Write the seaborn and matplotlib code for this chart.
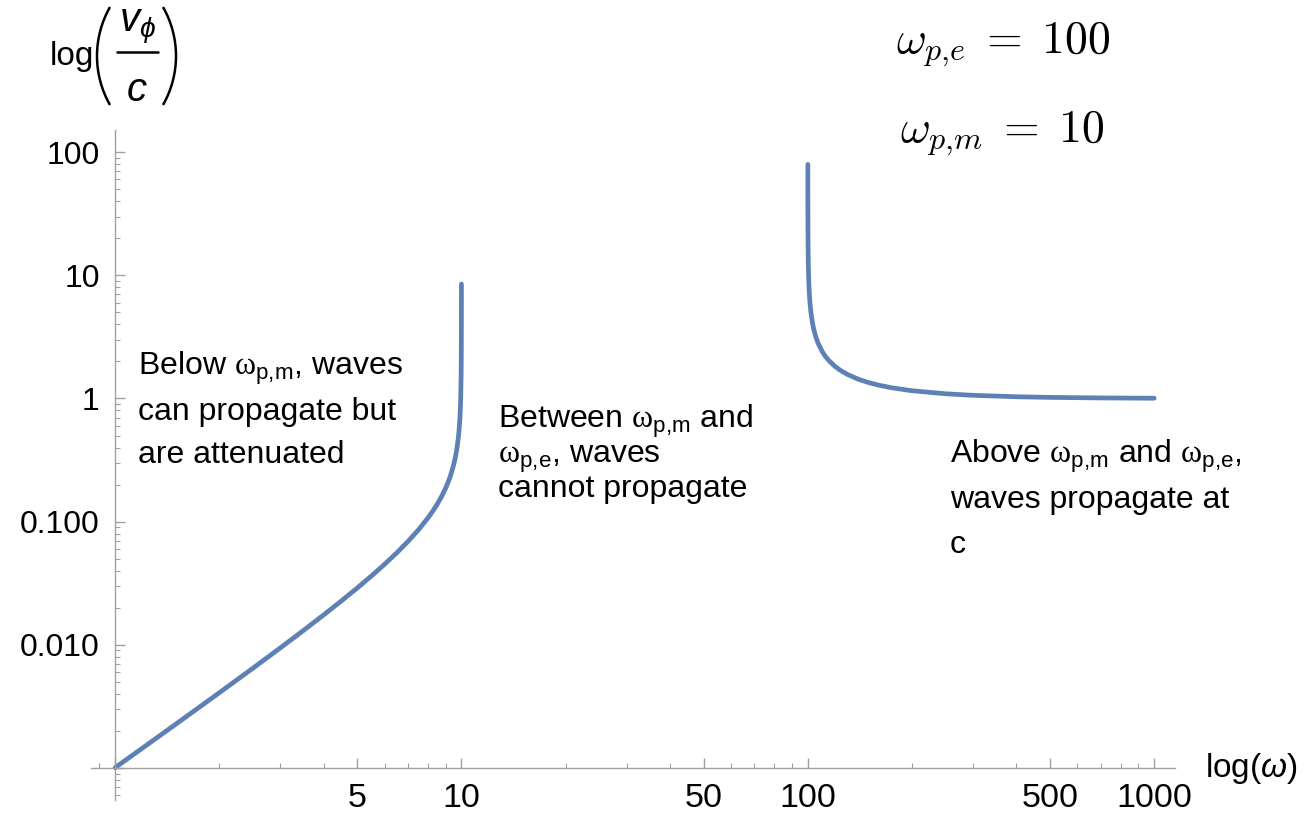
import numpy as np
import pandas as pd
import matplotlib.pyplot as plt
import seaborn as sns
from matplotlib.ticker import FixedLocator, FixedFormatter, NullFormatter
from matplotlib.patches import Arc
from matplotlib.lines import Line2D
from matplotlib.transforms import IdentityTransform

# values (log-log plot)
omega_low = [1, 1.25, 1.5, 2, 2.5, 3, 3.5, 4, 4.5, 5, 5.5, 6, 6.5, 7, 7.5, 8,
             8.25, 8.5, 8.75, 9, 9.15, 9.3, 9.5, 9.6, 9.7, 9.8, 9.85, 9.9,
             9.93, 9.95, 9.98, 9.99, 9.995, 9.998, 9.9993]
vphi_low = [0.001005, 0.001575, 0.002276, 0.004083, 0.006457, 0.00944,
            0.013085, 0.01747, 0.0227, 0.0289, 0.03627, 0.0451, 0.05571,
            0.0688, 0.08528, 0.1070, 0.12085, 0.1377, 0.15875, 0.1866,
            0.2084, 0.2363, 0.2904, 0.3307, 0.3889, 0.485, 0.565, 0.698,
            0.839, 0.9964, 1.584, 2.243, 3.176, 5.02, 8.49]

omega_high = [100.008, 100.02, 100.05, 100.1, 100.2, 100.3, 100.45, 100.6,
              100.8, 101, 101.5, 102, 103, 104, 105.5, 107, 110, 112.5, 115,
              120, 125, 130, 140, 150, 160, 175, 200, 250, 300, 400, 500,
              700, 1000]
vphi_high = [79.5, 50.25, 31.8, 22.5, 15.91, 13.0, 10.63, 9.216, 7.992,
             7.159, 5.867, 5.099, 4.194, 3.658, 3.152, 2.823, 2.410, 2.1915,
             2.033, 1.815, 1.672, 1.570, 1.4325, 1.345, 1.2835, 1.2205,
             1.156, 1.092, 1.061, 1.033, 1.021, 1.0105, 1.005]

x_ticks = [1, 5, 10, 50, 100, 500, 1000]
x_ticklabels = ['', '5', '10', '50', '100', '500', '1000']
y_ticks = [0.001, 0.01, 0.1, 1, 10, 100]
y_ticklabels = ['', '0.010', '0.100', '1', '10', '100']

sns.set_style('white')
plt.rcParams['font.family'] = ['Liberation Sans', 'DejaVu Sans']
plt.rcParams['text.color'] = 'black'
plt.rcParams['mathtext.fontset'] = 'custom'
plt.rcParams['mathtext.rm'] = 'Liberation Serif'
plt.rcParams['mathtext.it'] = 'Liberation Sans:italic'
plt.rcParams['mathtext.sf'] = 'Liberation Sans'
plt.rcParams['mathtext.bf'] = 'Liberation Sans:bold'

W, H = 1308, 814
fig = plt.figure(figsize=(W / 100, H / 100), dpi=100)
ax = fig.add_axes([90.8 / W, 14 / H, (1175 - 90.8) / W, (684 - 14) / H])

df_low = pd.DataFrame({'omega': omega_low, 'vphi': vphi_low})
df_high = pd.DataFrame({'omega': omega_high, 'vphi': vphi_high})
line_col = '#5E81B5'
sns.lineplot(data=df_low, x='omega', y='vphi', ax=ax, color=line_col,
             lw=3.4, estimator=None, sort=False, solid_capstyle='round')
sns.lineplot(data=df_high, x='omega', y='vphi', ax=ax, color=line_col,
             lw=3.4, estimator=None, sort=False, solid_capstyle='round')

ax.set_xscale('log')
ax.set_yscale('log')
ax.set_xlim(10 ** -0.07, 10 ** 3.06)
ax.set_ylim(10 ** -3.26, 10 ** 2.18)

# mathematica style axes crossing at the origin
gray = '#a0a0a0'
for s in ['top', 'right']:
    ax.spines[s].set_visible(False)
ax.spines['left'].set_position(('data', 1))
ax.spines['bottom'].set_position(('data', 0.001))
for s in ['left', 'bottom']:
    ax.spines[s].set_color(gray)
    ax.spines[s].set_linewidth(1.0)

ax.xaxis.set_major_locator(FixedLocator(x_ticks))
ax.xaxis.set_major_formatter(FixedFormatter(x_ticklabels))
ax.yaxis.set_major_locator(FixedLocator(y_ticks))
ax.yaxis.set_major_formatter(FixedFormatter(y_ticklabels))
x0, x1 = ax.get_xlim()
y0, y1 = ax.get_ylim()
minors = [m * 10.0 ** k for k in range(-5, 4) for m in range(2, 10)]
minors += [0.9]
ax.xaxis.set_minor_locator(FixedLocator([v for v in minors if x0 <= v <= x1]))
ax.yaxis.set_minor_locator(FixedLocator([v for v in minors if y0 <= v <= y1]))
ax.xaxis.set_minor_formatter(NullFormatter())
ax.yaxis.set_minor_formatter(NullFormatter())
ax.tick_params(which='both', bottom=True, left=True, top=False, right=False)
ax.tick_params(which='major', direction='in', length=7.2, width=1, color=gray,
               labelcolor='black')
ax.tick_params(which='minor', direction='in', length=3.4, width=0.8, color=gray)
ax.tick_params(axis='x', which='major', pad=11, labelsize=24.5)
ax.tick_params(axis='y', which='major', pad=11, labelsize=23)
ax.set_xlabel('')
ax.set_ylabel('')


def px(x, y):
    return x / W, 1 - y / H


# y label: log( v_phi / c ) built from pieces
fig.text(*px(50, 65), 'log', fontsize=24, ha='left', va='baseline')
fig.text(*px(137, 31), r'$v_\phi$', fontsize=29, ha='center', va='baseline')
fig.text(*px(137, 101), r'$c$', fontsize=29, ha='center', va='baseline')
fig.add_artist(Line2D([117 / W, 158 / W], [1 - 52 / H, 1 - 52 / H],
                      transform=fig.transFigure, color='black', lw=1.8))
R = 98.8
fig.add_artist(Arc((97 + R, H - 56), 2 * R, 2 * R, theta1=150.3, theta2=209.7,
                   transform=IdentityTransform(), color='black', lw=1.8))
fig.add_artist(Arc((176 - R, H - 56), 2 * R, 2 * R, theta1=-29.7, theta2=29.7,
                   transform=IdentityTransform(), color='black', lw=1.8))

fig.text(*px(1205, 768), r'log($\omega$)', fontsize=24, ha='left', va='center')

# parameter values
fig.text(*px(896, 53), r'$\omega_{p{,}e}\;=\;100$', fontsize=33, ha='left',
         va='baseline', math_fontfamily='cm')
fig.text(*px(900, 142), r'$\omega_{p{,}m}\;=\;10$', fontsize=33, ha='left',
         va='baseline', math_fontfamily='cm')

# region annotations
w_pm = r'$\mathrm{\omega}_{\mathsf{p{,}m}}$'
w_pe = r'$\mathrm{\omega}_{\mathsf{p{,}e}}$'
notes = [
    (138, 375, 'Below ' + w_pm + ', waves'),
    (138, 420, 'can propagate but'),
    (138, 463, 'are attenuated'),
    (498, 428, 'Between ' + w_pm + ' and'),
    (498, 463, w_pe + ', waves'),
    (498, 497, 'cannot propagate'),
    (950, 463, 'Above ' + w_pm + ' and ' + w_pe + ','),
    (950, 508, 'waves propagate at'),
    (950, 553, 'c'),
]
for x, y, t in notes:
    fig.text(*px(x, y), t, fontsize=23, ha='left', va='baseline')

plt.savefig('out.png', dpi=100)
